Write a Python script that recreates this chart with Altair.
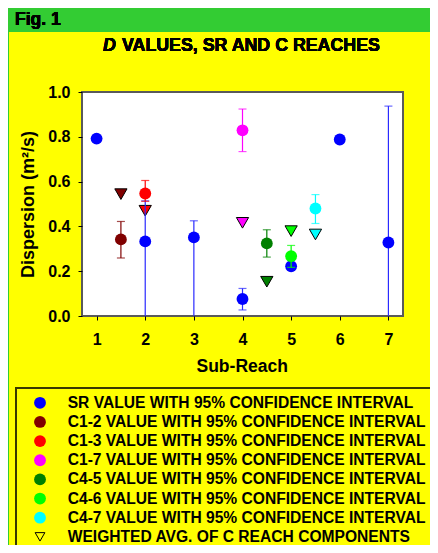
import altair as alt
import pandas as pd

# ---------------- data ----------------
sub_reach = [1, 2, 3, 4, 5, 6, 7]
sr_value = [0.792, 0.333, 0.351, 0.076, 0.222, 0.788, 0.328]
sr_low = [None, 0.0, 0.0, 0.027, None, None, 0.0]
sr_high = [None, 0.514, 0.425, 0.123, None, None, 0.937]

comp_names = ["C1-2", "C1-3", "C1-7", "C4-5", "C4-6", "C4-7"]
comp_pos = [1.5, 2.0, 4.0, 4.5, 5.0, 5.5]
comp_value = [0.342, 0.547, 0.829, 0.324, 0.267, 0.480]
comp_low = [0.259, 0.512, 0.734, 0.263, 0.217, 0.413]
comp_high = [0.422, 0.605, 0.924, 0.385, 0.315, 0.542]
comp_weighted = [0.544, 0.470, 0.416, 0.153, 0.379, 0.364]
comp_colors = ["#800000", "#FF0000", "#FF00FF", "#008000", "#00FF00", "#00FFFF"]
sr_color = "#0000FF"

x_ticks = [1, 2, 3, 4, 5, 6, 7]
y_ticks = [0.0, 0.2, 0.4, 0.6, 0.8, 1.0]

legend_labels = [
    "SR VALUE WITH 95% CONFIDENCE INTERVAL",
    "C1-2 VALUE WITH 95% CONFIDENCE INTERVAL",
    "C1-3 VALUE WITH 95% CONFIDENCE INTERVAL",
    "C1-7 VALUE WITH 95% CONFIDENCE INTERVAL",
    "C4-5 VALUE WITH 95% CONFIDENCE INTERVAL",
    "C4-6 VALUE WITH 95% CONFIDENCE INTERVAL",
    "C4-7 VALUE WITH 95% CONFIDENCE INTERVAL",
    "WEIGHTED AVG. OF C REACH COMPONENTS",
]
legend_colors = [sr_color] + comp_colors + ["none"]
legend_kind = ["circle"] * 7 + ["triangle"]

fig_label = "Fig. 1"
title_italic = "D"
title_rest = "VALUES, SR AND C REACHES"
x_title = "Sub-Reach"
y_title = "Dispersion (m\u00b2/s)"

# ---------------- tables ----------------
sr_df = pd.DataFrame({"x": sub_reach, "v": sr_value, "lo": sr_low, "hi": sr_high})
comp_df = pd.DataFrame({"name": comp_names, "x": comp_pos, "v": comp_value,
                        "lo": comp_low, "hi": comp_high, "w": comp_weighted})
legend_df = pd.DataFrame({"row": list(range(len(legend_labels))), "label": legend_labels,
                          "color": legend_colors, "kind": legend_kind})

W, H = 321, 224
FONT = "Liberation Sans"

x_scale = alt.Scale(domain=[0.7, 7.3], nice=False, zero=False)
y_scale = alt.Scale(domain=[0, 1], nice=False)
comp_scale = alt.Scale(domain=comp_names, range=comp_colors)

x_axis = alt.Axis(values=x_ticks, title=x_title, domain=False, grid=False, tickSize=4,
                  tickColor="black", tickWidth=1, labelFont=FONT, labelFontSize=16,
                  labelFontWeight="bold", labelColor="black", labelPadding=11,
                  labelFlush=False, labelOverlap=False,
                  titleFont=FONT, titleFontSize=17.5, titleFontWeight="bold",
                  titleColor="black", titleX=159.7, titleY=55.7, titleAlign="center",
                  titleBaseline="alphabetic", zindex=1)
y_axis = alt.Axis(values=y_ticks, format=".1f", title=y_title, domain=False, grid=False,
                  tickSize=4, tickColor="black", tickWidth=1, labelFont=FONT,
                  labelFontSize=16, labelFontWeight="bold", labelColor="black",
                  labelPadding=8, labelFlush=False, labelOverlap=False,
                  titleFont=FONT, titleFontSize=18, titleFontWeight="bold",
                  titleColor="black", titleAngle=270, titleX=-54, titleY=112,
                  titleAlign="center", titleBaseline="middle", zindex=1)

X = alt.X("x:Q", scale=x_scale, axis=x_axis)


def Y(field):
    return alt.Y(field, scale=y_scale, axis=y_axis)


# ---------------- decorations ----------------
panel = alt.Chart(sr_df).mark_rect(fill="#FFFF00", stroke=None).encode(
    x=alt.value(-73), x2=alt.value(420), y=alt.value(-60), y2=alt.value(480))
frame = alt.Chart(sr_df).mark_rect(fill="white", stroke="#5a5a5a", strokeWidth=2).encode(
    x=alt.value(0), x2=alt.value(W), y=alt.value(0), y2=alt.value(H))
legend_box = alt.Chart(sr_df).mark_rect(fill="#FFFF00", fillOpacity=0, stroke="#3a3a00",
                                        strokeWidth=1.5).encode(
    x=alt.value(-66), x2=alt.value(420), y=alt.value(296), y2=alt.value(480))

fig_text = alt.Chart(sr_df).mark_text(text=fig_label, font=FONT, fontSize=17.5, fontWeight="bold",
                                      align="left", baseline="alphabetic", color="black").encode(
    x=alt.value(-67), y=alt.value(-67.5))
title_d = alt.Chart(sr_df).mark_text(text=title_italic, font=FONT, fontSize=17.8,
                                     fontWeight="bold", fontStyle="italic", align="left",
                                     baseline="alphabetic", color="black").encode(
    x=alt.value(21), y=alt.value(-41.3))
title_r = alt.Chart(sr_df).mark_text(text=title_rest, font=FONT, fontSize=17.8,
                                     fontWeight="bold", align="left",
                                     baseline="alphabetic", color="black").encode(
    x=alt.value(40), y=alt.value(-41.3))

# ---------------- data marks ----------------
sr_base = alt.Chart(sr_df)
sr_err = sr_base.transform_filter("isValid(datum.lo)").mark_rule(
    color="#2a2aff", strokeWidth=1.2).encode(x=X, y=Y("lo:Q"), y2="hi:Q")
sr_cap_lo = sr_base.transform_filter("isValid(datum.lo) && datum.lo > 0").mark_tick(
    orient="horizontal", size=8, thickness=1.2, color="#2a2aff").encode(x=X, y=Y("lo:Q"))
sr_cap_hi = sr_base.transform_filter("isValid(datum.hi)").mark_tick(
    orient="horizontal", size=8, thickness=1.2, color="#2a2aff").encode(x=X, y=Y("hi:Q"))
sr_pts = sr_base.mark_circle(size=140, opacity=1, color=sr_color).encode(x=X, y=Y("v:Q"))

cbase = alt.Chart(comp_df)
ccolor = alt.Color("name:N", scale=comp_scale, legend=None)
c_err = cbase.mark_rule(strokeWidth=1.2).encode(x=X, y=Y("lo:Q"), y2="hi:Q", color=ccolor)
c_cap_lo = cbase.mark_tick(orient="horizontal", size=8, thickness=1.2).encode(
    x=X, y=Y("lo:Q"), color=ccolor)
c_cap_hi = cbase.mark_tick(orient="horizontal", size=8, thickness=1.2).encode(
    x=X, y=Y("hi:Q"), color=ccolor)
c_pts = cbase.mark_circle(size=140, opacity=1).encode(x=X, y=Y("v:Q"), color=ccolor)
c_tri = cbase.mark_point(shape="triangle-down", filled=True, size=150, opacity=1,
                         stroke="black", strokeWidth=1).encode(
    x=X, y=Y("w:Q"), fill=alt.Fill("name:N", scale=comp_scale, legend=None))

# ---------------- legend ----------------
lbase = alt.Chart(legend_df).transform_calculate(py="310.8 + 19.15 * datum.row")
LY = alt.Y("py:Q", scale=None, axis=None)
leg_circ = lbase.transform_filter("datum.kind == 'circle'").mark_point(
    shape="circle", filled=True, size=140, opacity=1).encode(
    x=alt.value(-42), y=LY, fill=alt.Fill("color:N", scale=None), stroke=alt.value(None))
leg_tri = lbase.transform_filter("datum.kind == 'triangle'").mark_point(
    shape="triangle-down", filled=False, size=95, opacity=1, color="black",
    strokeWidth=1).encode(x=alt.value(-42), y=LY)
leg_text = lbase.mark_text(align="left", baseline="middle", font=FONT, fontSize=15.6,
                           fontWeight="bold", color="black").encode(
    x=alt.value(-14.3), y=alt.Y("py:Q", scale=None, axis=None), text="label:N")

chart = alt.layer(
    panel, legend_box, frame, fig_text, title_d, title_r,
    c_tri, sr_err, sr_cap_lo, sr_cap_hi, sr_pts,
    c_err, c_cap_lo, c_cap_hi, c_pts,
    leg_circ, leg_tri, leg_text,
).properties(
    width=W, height=H,
    padding={"left": 74, "top": 84, "right": 27, "bottom": 229},
    autosize=alt.AutoSizeParams(type="none"),
    background="#33CC33",
).configure_view(stroke=None)

chart.save("out.html", embed_options={"renderer": "svg", "actions": False})
